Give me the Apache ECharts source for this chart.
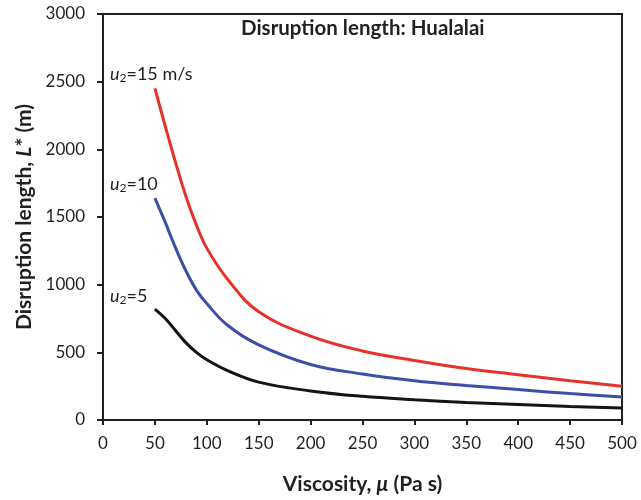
<!DOCTYPE html>
<html>
<head>
<meta charset="utf-8">
<script src="https://cdn.jsdelivr.net/npm/echarts@6/dist/echarts.min.js"></script>
<style>
    body { margin: 0; background: #fff; }
    #chart { width: 641px; height: 500px; }
</style>
</head>
<body>
<div id="chart"></div>
<script>
// viscosity (Pa s) and disruption length L* (m) for three wind speeds
var viscosity = [50, 60, 70, 80, 90, 100, 120, 150, 200, 250, 300, 350, 400, 450, 500];
var u15 = [2450, 2170, 1900, 1650, 1440, 1270, 1040, 800, 620, 510, 440, 380, 335, 290, 250];
var u10 = [1640, 1460, 1270, 1100, 960, 860, 700, 555, 410, 340, 290, 255, 225, 195, 170];
var u5 = [820, 750, 660, 570, 500, 445, 365, 280, 215, 175, 150, 130, 115, 100, 88];
var xTicks = [0, 500, 50];     // min, max, step
var yTicks = [0, 3000, 500];

var FONT = 'Lato, "Open Sans", sans-serif';
var INK = '#231f20';

function pairs(ys) {
    return viscosity.map(function (x, i) { return [x, ys[i]]; });
}

function mkSeries(name, ys, color) {
    return {
        name: name,
        type: 'line',
        smooth: 0.4,
        showSymbol: false,
        data: pairs(ys),
        lineStyle: { color: color, width: 3 },
        itemStyle: { color: color }
    };
}

// label rich styles (u with subscript 2)
var labelRich = {
    i: { fontFamily: FONT, fontSize: 18, fontStyle: 'italic', fill: INK },
    s: { fontFamily: FONT, fontSize: 12, fill: INK, padding: [8, 0, 0, 0] },
    n: { fontFamily: FONT, fontSize: 18, fill: INK }
};

function uLabel(x, y, rest) {
    return {
        type: 'text',
        left: x,
        top: y,
        style: {
            text: '{i|u}{s|2}{n|' + rest + '}',
            rich: labelRich,
            fill: INK
        }
    };
}

var nameRich = {
    b: { fontFamily: FONT, fontSize: 21, fontWeight: 'bold', color: INK },
    bi: { fontFamily: FONT, fontSize: 21, fontWeight: 'bold', fontStyle: 'italic', color: INK }
};

var myChart = echarts.init(document.getElementById('chart'));
myChart.setOption({
    animation: false,
    grid: {
        left: 103, right: 19, top: 14, bottom: 79,
        show: true,
        borderColor: INK,
        borderWidth: 2
    },
    xAxis: {
        type: 'value',
        min: xTicks[0], max: xTicks[1], interval: xTicks[2],
        axisLine: { lineStyle: { color: INK, width: 2 } },
        axisTick: { length: 5, lineStyle: { color: INK, width: 2 } },
        splitLine: { show: false },
        axisLabel: { color: INK, fontSize: 17, fontFamily: FONT, margin: 15 },
        name: '{b|Viscosity, }{bi|μ}{b| (Pa s)}',
        nameLocation: 'middle',
        nameGap: 54,
        nameTextStyle: { rich: nameRich }
    },
    yAxis: {
        type: 'value',
        min: yTicks[0], max: yTicks[1], interval: yTicks[2],
        axisLine: { show: true, lineStyle: { color: INK, width: 2 } },
        axisTick: { show: true, length: 6, lineStyle: { color: INK, width: 2 } },
        splitLine: { show: false },
        axisLabel: {
            color: INK, fontSize: 17, fontFamily: FONT, margin: 18,
            formatter: function (v) { return String(v); }
        },
        name: '{b|Disruption length, }{bi|L}{b|* (m)}',
        nameLocation: 'middle',
        nameRotate: 90,
        nameGap: 62,
        nameTextStyle: { rich: nameRich }
    },
    series: [
        mkSeries('u2=15 m/s', u15, '#e5332a'),
        mkSeries('u2=10', u10, '#3a4fa6'),
        mkSeries('u2=5', u5, '#141414')
    ],
    graphic: {
        elements: [
            {
                type: 'text',
                left: 241,
                top: 18,
                style: {
                    text: 'Disruption length: Hualalai',
                    fontFamily: FONT,
                    fontSize: 20.5,
                    fontWeight: 'bold',
                    fill: INK
                }
            },
            uLabel(110, 65, '=15 m/s'),
            uLabel(110, 175, '=10'),
            uLabel(110, 287, '=5')
        ]
    }
});
</script>
</body>
</html>
